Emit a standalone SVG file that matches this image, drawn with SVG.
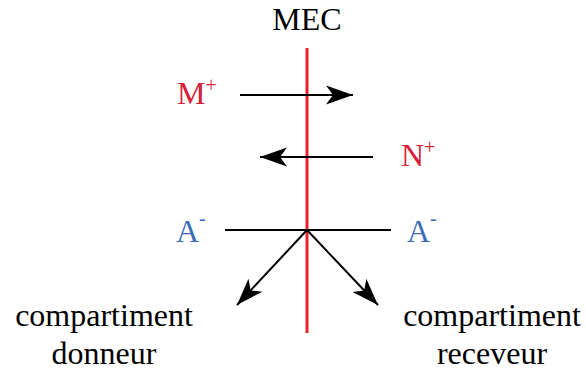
<svg xmlns="http://www.w3.org/2000/svg" width="586" height="372" viewBox="0 0 586 372">
<defs>
<style>
text{font-family:'Liberation Serif',serif;font-size:32px}
.k{fill:#000}
.r{fill:#d6203a}
.b{fill:#3b6cb5}
.sup{font-size:20px}
.ln{stroke:#000;stroke-width:2;fill:none}
</style>
<marker id="ah" markerUnits="userSpaceOnUse" markerWidth="30" markerHeight="24" viewBox="-28 -12 30 24" refX="0" refY="0" orient="auto">
<path d="M0,0 L-27,-9.5 L-20,0 L-27,9.5 Z" fill="#000"/>
</marker>
</defs>
<rect width="586" height="372" fill="#fff"/>
<g id="membrane">
<line x1="307" y1="48" x2="307" y2="333" stroke="#e8212b" stroke-width="3"/>
<text class="k" x="307" y="30" text-anchor="middle">MEC</text>
</g>
<g id="connectors">
<line class="ln" x1="240" y1="95" x2="353" y2="95" marker-end="url(#ah)"/>
<line class="ln" x1="373" y1="157" x2="260" y2="157" marker-end="url(#ah)"/>
<line class="ln" x1="225" y1="230" x2="391" y2="230"/>
<line class="ln" x1="307" y1="230" x2="237" y2="305" marker-end="url(#ah)"/>
<line class="ln" x1="307" y1="230" x2="378" y2="305" marker-end="url(#ah)"/>
</g>
<g id="M">
<text class="r" x="177" y="104">M<tspan class="sup" dy="-12">+</tspan></text>
</g>
<g id="N">
<text class="r" x="401" y="166">N<tspan class="sup" dy="-12">+</tspan></text>
</g>
<g id="A-left">
<text class="b" x="176" y="242">A<tspan class="sup" dy="-17">-</tspan></text>
</g>
<g id="A-right">
<text class="b" x="407" y="242">A<tspan class="sup" dy="-17">-</tspan></text>
</g>
<g id="donneur">
<text class="k" x="104" y="326" text-anchor="middle">compartiment</text>
<text class="k" x="104" y="364" text-anchor="middle">donneur</text>
</g>
<g id="receveur">
<text class="k" x="492" y="326" text-anchor="middle">compartiment</text>
<text class="k" x="492" y="364" text-anchor="middle">receveur</text>
</g>
</svg>
